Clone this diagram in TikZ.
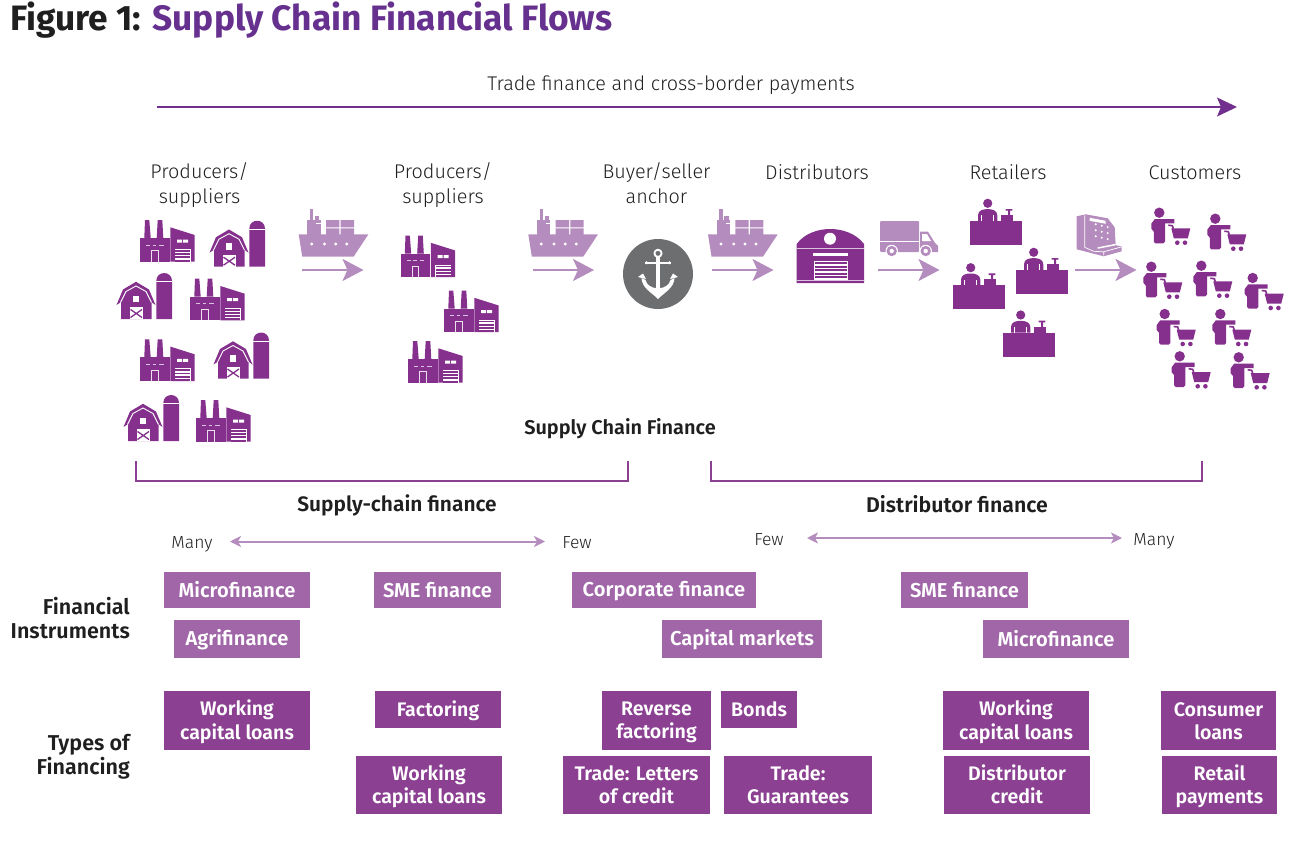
\documentclass[tikz,border=0pt]{standalone}
\usepackage{fontspec}
\setmainfont{Fira Sans}[UprightFont=* Light,BoldFont=* SemiBold]
\newfontfamily\heavy{Fira Sans}[UprightFont=* Bold]
\usetikzlibrary{arrows.meta}
\newcommand{\st}{\vrule width 0pt height 18pt depth 4pt\relax}
\definecolor{ic}{HTML}{84308C}
\definecolor{dbox}{HTML}{8B4092}
\definecolor{lbox}{HTML}{A066A8}
\definecolor{pale}{HTML}{B58CBE}
\definecolor{titlep}{HTML}{66308F}
\definecolor{ink}{HTML}{1F1F1F}
\definecolor{anch}{HTML}{6D6E70}
\tikzset{
 lab/.style={font=\fontsize{19.8}{25}\selectfont,text=ink,align=center,inner sep=0pt},
 blab/.style={font=\fontsize{20.9}{24}\selectfont\bfseries,text=ink,align=center,inner sep=0pt},
 small/.style={font=\fontsize{17.5}{18}\selectfont,text=ink,inner sep=0pt},
 rowlab/.style={font=\fontsize{21.5}{24}\selectfont\bfseries,text=ink,align=right,inner sep=0pt,anchor=east},
 boxd/.style={fill=dbox,text=white,font=\fontsize{19.6}{21.5}\selectfont\bfseries,align=center,inner sep=0pt},
 boxl/.style={fill=lbox,text=white,font=\fontsize{20.1}{21.5}\selectfont\bfseries,align=center,inner sep=0pt},
 flow/.style={draw=pale,line width=2.4pt,-{Stealth[length=21pt,width=22pt,inset=5pt]},shorten >=0pt},
 both/.style={draw=pale,line width=2pt,{Stealth[length=11pt,width=11pt,inset=3pt]}-{Stealth[length=11pt,width=11pt,inset=3pt]}},
 factory/.pic={
  \fill[ic] (0,18) rectangle (29.5,41.7);
  \fill[ic] (4.3,18)--(5,0)--(9.3,0)--(10.7,18)--cycle;
  \fill[ic] (16.7,18)--(17.7,0)--(22.3,0)--(23.3,18)--cycle;
  \fill[ic] (30.3,7.3)--(54.7,15)--(54.7,41.7)--(30.3,41.7)--cycle;
  \draw[white!70!ic,line width=.8pt] (6,25)--(10,25) (12.5,25)--(16,25) (19,25)--(23.5,25);
  \draw[white!85!ic,line width=.8pt] (11.5,41.7)--(11.5,30.7)--(18,30.7)--(18,41.7);
  \fill[white] (37,19.5) rectangle (42,22.5) (43,19.5) rectangle (48,22.5);
  \fill[white] (34.5,29) rectangle (50.5,41.7);
  \foreach \yy in {30,33.2,36.4,39.6} {\fill[ic] (35,\yy) rectangle (50,\yy+1.9);}
 },
 barn/.pic={
  \fill[ic] (39.3,46)--(39.3,8) .. controls (39.3,-2.6) and (55,-2.6) .. (55,8)--(55,46)--cycle;
  \fill[white] (39.3,8.2) rectangle (55,9.2);
  \fill[ic] (-0.5,32)--(6,16.5)--(19,8.8)--(32,16.5)--(38.5,32)--(34.5,29)--(34.5,46)--(4,46)--(4,29)--cycle;
  \draw[white,line width=.9pt] (3.5,29.5)--(9,18.5)--(19,13)--(29,18.5)--(34.5,29.5);
  \fill[white] (16,22.7) rectangle (22,29.3);
  \fill[white] (12.5,34) rectangle (26,46);
  \draw[ic,line width=1.3pt] (13.5,36.5)--(25,44.5) (25,36.5)--(13.5,44.5);
 },
 ship/.pic={
  \fill[pale] (0,25)--(69.7,25)--(55,47.3)--(3.5,47.3)--cycle;
  \fill[pale] (8.7,10.7) rectangle (22,25.5);
  \fill[pale] (11.3,0) rectangle (14.7,11);
  \fill[pale] (16.3,6.7) rectangle (20.7,11);
  \fill[white] (17.5,13.5) rectangle (22.2,14.6);
  \fill[pale] (27.3,10.7) rectangle (40.7,18) (42,10.7) rectangle (55.3,18);
  \fill[pale] (27.3,19) rectangle (40.7,25.5) (42,19) rectangle (55.3,25.5);
  \foreach \xx in {13,25.7,37,48} {\fill[white] (\xx,34.7) circle (1.6);}
 },
 truck/.pic={
  \fill[pale,rounded corners=1pt] (0,0) rectangle (39,31);
  \fill[white] (0,19.8) rectangle (39,21);
  \fill[pale] (40,10.7)--(48,10.7)--(55,22)--(58,25)--(58,31)--(40,31)--cycle;
  \fill[white] (42,13)--(47,13)--(51,20)--(42,20)--cycle;
  \foreach \xx in {11.7,45.7} {\fill[white] (\xx,30) circle (6.2); \fill[pale] (\xx,30) circle (5.2); \fill[white] (\xx,30) circle (2.2);}
 },
 register/.pic={
  \fill[pale] (0,2)--(9,0)--(31,4)--(38,13)--(39,31)--(45,32)--(45,37)--(27,42)--(0,35)--cycle;
  \draw[white,line width=.7pt] (8,1)--(8,33) (8,33)--(17,37) (27,41)--(27,37.5)--(45,32.5) (17,37)--(27,37.5);
  \fill[white] (13,3.5)--(29,6.5)--(29,9.5)--(13,6.5)--cycle;
  \foreach \xx/\dy in {19/0,25/1.4,31/2.8} {\foreach \ww in {10,16,22} {\fill[white] (\xx,\ww+\dy) circle (1.1);}}
  \fill[white] (21,33)--(39,29.5)--(39,31)--(21,34.5)--cycle;
 },
 shopper/.pic={
  \fill[ic] (8,5) circle (5.2);
  \fill[ic] (3.5,11.3)--(23,11.3)--(23,15.7)--(13.7,15.7)--(13.7,34)--(12,35.7)--(4,35.7)--(2.5,34)--(2.5,24)--(0,21)--(0,16)--cycle;
  \draw[ic,line width=1.6pt] (17,17.5)--(21,18)--(22,21);
  \fill[ic] (20,20.7)--(39,20.7)--(36.5,30.7)--(22.5,30.7)--cycle;
  \fill[ic] (26,35) circle (2.3) (33.7,35) circle (2.3);
 },
 retail/.pic={
  \fill[ic] (0,22.7) rectangle (52,46.7);
  \fill[ic] (17.7,5) circle (4.6);
  \fill[ic] (8,22.7)--(8,17) .. controls (8,12) and (13,10.8) .. (17.7,10.8) .. controls (22,10.8) and (27.3,12) .. (27.3,17)--(27.3,22.7)--cycle;
  \draw[white,line width=.7pt] (11.5,22.7)--(11.5,17) (23.8,22.7)--(23.8,17);
  \fill[ic] (31,16.7) rectangle (43,22.7);
  \fill[ic] (38,10.7) rectangle (40,17) (35.7,10.7) rectangle (42.3,12.3);
 },
}
\newcommand{\qbox}[7]{\node[#2,minimum width={(#5-#3)*1pt},minimum height={(#6-#4)*1pt}] (#1) at ({(#3+#5)/2},{(#4+#6)/2}) {#7};}
\begin{document}
\begin{tikzpicture}[x=1pt,y=-1pt]
\useasboundingbox (0,0) rectangle (1310,851);
% title
\node[anchor=base west,inner sep=0pt,font=\fontsize{35.3}{38}\heavy] (title) at (10,31) {\textcolor{ink}{Figure 1: }\textcolor{titlep}{Supply Chain Financial Flows}};
% top arrow
\node[lab] (trade) at (671,84) {\st Trade finance and cross-border payments};
\coordinate (ta) at (157,107); \coordinate (tb) at (1237,107);
\draw[draw=titlep!60!ic,line width=1.6pt,-{Stealth[length=20pt,width=19pt,inset=4pt]}] (ta)--(tb);
% column heads
\node[lab] (p1) at (199.5,184) {\st Producers/\\\st suppliers};
\node[lab] (p2) at (443,184) {\st Producers/\\\st suppliers};
\node[lab] (bs) at (656.5,184) {\st Buyer/seller\\\st anchor};
\node[lab] (di) at (817,172) {\st Distributors};
\node[lab] (re) at (1008,172) {\st Retailers};
\node[lab] (cu) at (1195,172) {\st Customers};
% factories & barns
\foreach \px/\py in {140/220,190/278.7,140/339.3,196/400,400.5/235.5,444/290.5,408/341}{\pic at (\px,\py) {factory};}
\foreach \px/\py in {210/220.7,117/273,214/332.5,124/395}{\pic at (\px,\py) {barn};}
% ships and arrows
\foreach \px in {298.7,528.3,708}{\pic at (\px,209.3) {ship};}
\coordinate (a1) at (302,270); \coordinate (b1) at (363.5,270);
\coordinate (a2) at (532.7,270); \coordinate (b2) at (594,270);
\coordinate (a3) at (712,270); \coordinate (b3) at (773.5,270);
\coordinate (a4) at (878,270); \coordinate (b4) at (939.5,270);
\coordinate (a5) at (1075,270); \coordinate (b5) at (1136.5,270);
\foreach \i in {1,...,5}{\draw[flow] (a\i)--(b\i);}
% anchor
\fill[anch] (658,274) circle (35);
\begin{scope}[shift={(658,274)}]
 \draw[white,line width=1.8pt] (0,-20.7) circle (3.6);
 \fill[white] (-2.4,-17) rectangle (2.4,16);
 \fill[white] (-13,-12) rectangle (13,-10.5);
 \fill[white] (-11.5,-11.2) circle (1.6) (11.5,-11.2) circle (1.6);
 \fill[white] (-16.5,4) .. controls (-16,14) and (-7,18) .. (0,25) .. controls (7,18) and (16,14) .. (16.5,4) -- (12.5,6) .. controls (11.5,11) and (6,14) .. (2.4,14) -- (-2.4,14) .. controls (-6,14) and (-11.5,11) .. (-12.5,6) -- cycle;
 \fill[white] (-20,3)--(-15,-0.5)--(-12,5)--cycle (20,3)--(15,-0.5)--(12,5)--cycle;
\end{scope}
% warehouse
\begin{scope}[shift={(796.7,229)}]
 \fill[ic] (0,54)--(0,15) .. controls (8,4) and (22,0) .. (33.6,0) .. controls (45,0) and (59,4) .. (67.3,15)--(67.3,54)--cycle;
 \fill[white] (33.3,9.7) circle (6);
 \draw[white!70!ic,line width=.7pt] (0,19)--(67.3,19);
 \fill[white] (16,24) rectangle (51,26.5);
 \fill[white] (17,31.7) rectangle (51,51);
 \foreach \yy in {33,36.6,40.2,43.8,47}{\fill[ic] (18,\yy) rectangle (50,\yy+2);}
 \draw[white!70!ic,line width=.7pt] (0,51.7)--(67.3,51.7);
\end{scope}
\pic at (880,221) {truck};
\pic at (1076.7,214.3) {register};
% retailers
\foreach \px/\py in {970/198.3,953/262.7,1016/247.3,1003/310}{\pic at (\px,\py) {retail};}
% customers
\foreach \px/\py in {1151.3/207.7,1207.3/213.7,1143.3/261.7,1193.3/260.7,1244.7/273,1156.7/309,1212.3/309,1171.7/351.3,1230.7/352.3}{\pic at (\px,\py) {shopper};}
% section labels
\node[blab,font=\fontsize{19.9}{24}\selectfont\bfseries] (scf) at (620,428) {\st Supply Chain Finance};
\coordinate (l1) at (135.5,461); \coordinate (l2) at (627.5,461);
\coordinate (r1) at (711,461); \coordinate (r2) at (1202,461);
\draw[dbox,line width=2pt] (l1)--(l1|-0,480.5)--(l2|-0,480.5)--(l2);
\draw[dbox,line width=2pt] (r1)--(r1|-0,480.5)--(r2|-0,480.5)--(r2);
\node[blab] (scn) at (397,505) {\st Supply-chain finance};
\node[blab,font=\fontsize{21.3}{24}\selectfont\bfseries] (dfn) at (957,505) {\st Distributor finance};
\node[small] (m1) at (192,541) {\st Many};
\node[small] (f1) at (577,541) {\st Few};
\node[small] (f2) at (769,538) {\st Few};
\node[small] (m2) at (1154,538) {\st Many};
\coordinate (da1) at (230,541.5); \coordinate (db1) at (545,541.5);
\coordinate (da2) at (807,538); \coordinate (db2) at (1122,538);
\draw[both] (da1)--(db1);
\draw[both] (da2)--(db2);
\node[rowlab] (fi) at (130,619) {\st Financial\\\st Instruments};
\node[rowlab] (tf) at (130,756) {\st Types of\\\st Financing};
% instruments
\qbox{i1}{boxl}{164}{572}{310}{608}{\st Microfinance}
\qbox{i2}{boxl}{174}{620}{300}{658}{\st Agrifinance}
\qbox{i3}{boxl}{374}{572}{501}{608}{\st SME finance}
\qbox{i4}{boxl}{572}{572}{756}{608}{\st Corporate finance}
\qbox{i5}{boxl}{662}{620}{822}{658}{\st Capital markets}
\qbox{i6}{boxl}{901}{572}{1028}{608}{\st SME finance}
\qbox{i7}{boxl}{983}{620}{1129}{658}{\st Microfinance}
% types
\qbox{t1}{boxd}{164}{691}{310}{750}{\st Working\\\st capital loans}
\qbox{t2}{boxd}{375}{691}{501}{728}{\st Factoring}
\qbox{t3}{boxd}{356}{756}{502}{814}{\st Working\\\st capital loans}
\qbox{t4}{boxd}{602}{691}{711}{750}{\st Reverse\\\st factoring}
\qbox{t5}{boxd}{721}{691}{797}{728}{\st Bonds}
\qbox{t6}{boxd}{563}{756}{710}{814}{\st Trade: Letters\\\st of credit}
\qbox{t7}{boxd}{724}{756}{872}{814}{\st Trade:\\\st Guarantees}
\qbox{t8}{boxd}{943}{691}{1089}{750}{\st Working\\\st capital loans}
\qbox{t9}{boxd}{944}{756}{1090}{814}{\st Distributor\\\st credit}
\qbox{t10}{boxd}{1161}{691}{1276}{750}{\st Consumer\\\st loans}
\qbox{t11}{boxd}{1162}{756}{1277}{814}{\st Retail\\\st payments}
\end{tikzpicture}
\end{document}
